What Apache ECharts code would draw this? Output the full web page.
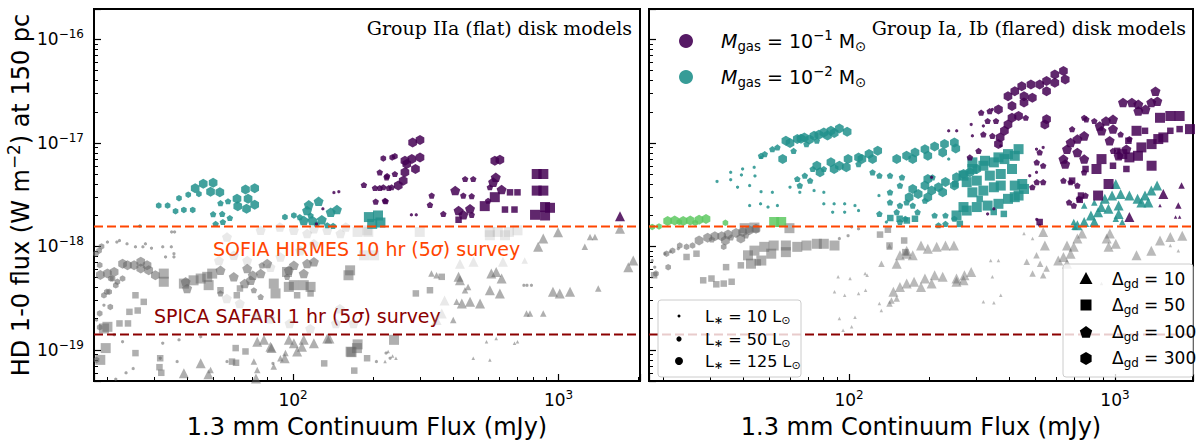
<!DOCTYPE html>
<html>
<head>
<meta charset="utf-8">
<script src="https://cdn.jsdelivr.net/npm/echarts@6/dist/echarts.min.js"></script>
<style>
html, body { margin: 0; padding: 0; background: #fff; }
#chart { width: 1200px; height: 444px; }
</style>
</head>
<body>
<div id="chart"></div>
<script>
// HD 1-0 line flux vs 1.3 mm continuum flux for disk models.
// every point: [1.3 mm flux (mJy), HD 1-0 flux (units of 1e-18 W m^-2), L* (Lsun)]
var Y_UNIT = 1e-18;
var SOFIA_LIMIT = 1.56e-18;
var SPICA_LIMIT = 1.41e-19;

// ---- left panel: Group IIa (flat) ----
var flatTealHex = [[31.2,2.48,50],[33.7,2.48,50],[36.1,2.19,50],[38.8,2.25,50],[41.9,2.25,50],[37.2,2.92,50],[40.3,3.16,50],[42.8,3.65,125],[45.9,4.04,125],[44.2,3.21,50],[50.0,4.13,125],[48.9,3.38,125],[53,3.33,125],[61.5,2.88,125],[66.2,3.54,125],[71.7,3.65,125],[67.7,2.88,125],[61.9,2.45,125],[66.8,2.31,125],[71.7,2.52,125],[93.2,1.92,50],[100.7,1.99,50],[26.5,1.57,10]];
var flatTealPent = [[53.3,2.62,50],[56.9,2.73,50],[50.0,2.05,50],[54.1,2.06,50],[57.8,1.88,50],[51.1,1.65,50],[54.4,1.72,50],[106,1.92,50],[112.9,2.22,125],[116.4,1.99,50],[124.8,2.73,125],[114.6,2.52,125],[109.7,1.78,125],[118.2,1.78,125],[128.3,1.81,125],[138.6,2.14,125],[146.3,2.27,125],[141.5,1.58,50],[134.5,1.60,50],[122.8,1.65,50]];
var flatTealSq = [[193,1.92,125],[208.9,1.99,125],[213.3,1.70,125],[198.6,1.65,125]];

var flatPurpleHex = [[282,10.1,125],[300.6,10.7,125],[263.8,6.72,125],[280,6.98,125],[300.6,7.25,125],[268,6.25,125],[289,5.6,125],[263.8,5.2,125],[259.9,4.32,125],[249,3.87,125],[575,6.72,125],[601,6.88,125],[218.7,7.09,50],[236.2,7.25,50],[241.8,7.43,50],[142.5,3.31,10],[148.7,3.38,10],[129.5,2.31,10],[122.5,1.65,10],[279,2.02,10],[291,2.02,10]];
var flatPurplePent = [[184.8,3.92,50],[203.5,3.67,50],[212,3.67,50],[229.3,3.67,50],[212,5.20,50],[226,4.79,50],[204.7,2.71,50],[223.2,2.73,50],[225,4.65,50],[241.8,5.01,50],[218.7,3.73,50],[235,3.73,50],[221.8,2.76,50],[332.6,3.10,50],[327.7,2.52,50],[368,2.06,50],[408,3.46,125],[444.6,4.48,50],[477,4.48,50],[437.5,3.10,50],[470.6,3.06,50],[420,2.22,125],[437.5,2.02,125],[463.8,2.31,125],[470.6,2.02,50],[579.8,4.65,125],[566.7,4.18,125],[609.9,3.54,125],[551,3.73,50],[542.6,2.76,50]];
var flatPurpleSq = [[420,1.81,50],[527,2.45,125],[575,2.99,125],[656,3.33,50],[700,3.33,50],[628,2.27,50],[682,2.27,50],[827,5.01,125],[876,5.01,125],[827,3.46,125],[876,3.46,125],[815,2.02,125],[889,1.99,125],[889,2.40,125],[928,2.36,125]];
var flatPurpleTri = [[1703,1.96,125]];

var flatGrayHex = [[18.8,0.53,125],[20,0.546,125],[21.2,0.566,125],[22.8,0.68,125],[23.8,0.656,125],[25.2,0.656,125],[26.7,0.71,125],[28.2,0.656,125],[26.7,0.61,125],[28.6,0.587,125],[30.3,0.526,125],[20.6,0.489,50],[21.8,0.455,50],[22.8,0.489,50],[21.5,0.42,50],[20.3,0.364,50],[19.4,0.337,50],[18.1,0.85,50],[18.6,0.91,50],[19,1.0,50],[18.7,0.66,50],[20.9,0.489,50],[19.9,0.364,50],[18.7,0.225,50],[20.5,0.26,50],[18.7,0.165,50],[18.2,0.08,50],
  [20,1.10,10],[22.2,1.14,10],[25.5,0.99,10],[27.8,1.06,10],[32.3,0.99,10],[34.8,0.99,10],[35.6,0.85,10],[33.1,0.79,10],[35.6,0.79,10],[19.4,0.27,10],[18.2,0.194,10],[21.2,0.14,10],[22.8,0.12,10],[31.6,0.083,10],[32.3,0.116,10],[37.2,0.125,10],[44.9,0.134,10],[36.6,0.077,10],[56.4,0.077,10],[206,0.077,10],[224,0.093,10],[232,0.083,10],[21.7,1.10,10],[23.7,1.06,10],[27.2,0.99,10],[29.3,0.96,10],[34.9,1.38,10],[35.8,1.38,10],[21.5,0.052,10],[23.5,0.06,10],[25,0.066,10],[84,0.074,10],[740,0.42,10],[760,0.42,10],[790,0.42,10]];
var flatGrayPent = [[53.3,0.587,125],[59.8,0.508,125],[67.2,0.61,125],[75.5,0.546,125],[79.9,0.682,125],[69.2,0.47,125],[71.2,0.377,50],[75.5,0.325,50],[39.9,0.392,125],[53.3,0.351,50],[96.4,0.587,125],[100.7,0.656,125],[113,0.682,125],[119.8,0.71,125],[95,0.508,50],[109.7,0.546,125],[39.4,0.455,125],[65.7,0.437,125],[70.5,0.526,125],[76.2,0.656,50]];
var flatGraySq = [[32.6,0.546,125],[32.6,0.455,125],[38.8,0.437,125],[42.2,0.47,125],[44.9,0.489,125],[47.5,0.508,125],[49.6,0.546,125],[48.1,0.422,125],[84.6,0.437,125],[85.9,0.351,125],[96.4,0.406,125],[100.7,0.422,125],[109.7,0.422,125],[116.4,0.406,125],[103.6,0.337,50],[20,0.167,125],[19.7,0.104,125],[18.8,0.08,125],[164.7,0.096,125],[174,0.104,125],[94.9,0.566,125],[161.7,0.526,125],[164,0.587,125],[175,0.113,125],[166,0.095,125],[19.4,0.161,125],[240,0.125,125],
  [25.5,0.337,50],[27.4,0.291,50],[24.2,0.233,50],[26,0.24,50],[22.2,0.18,50],[23.9,0.18,50],[53.3,0.377,50],[63.1,0.392,50],[61.4,0.337,50],[60.8,0.104,50],[66.2,0.0965,50],[58.9,0.077,50],[116.4,0.351,50],[190,0.083,50],[363,0.508,50],[290,0.351,50],[327.7,0.377,50],[31.6,0.083,50],[25.5,0.093,50],[31.4,0.068,50],[31.9,0.06,50],[61,0.075,50],[131,0.074,50],[170,0.063,50]];
var flatGrayTri = [[73.3,0.12,125],[77.7,0.125,125],[82.2,0.107,125],[96.4,0.125,125],[100.7,0.116,125],[109.7,0.125,125],[119.8,0.116,125],[134.5,0.129,125],[103.6,0.0965,125],[93.6,0.093,50],[89.6,0.083,50],[71.2,0.077,50],[44.9,0.0743,125],[48.9,0.064,50],[38.8,0.0595,125],[73.3,0.064,50],[84.6,0.069,50],[83,0.104,125],[93,0.083,125],[137,0.129,125],[108,0.107,125],[48,0.058,125],[72.5,0.053,125],
  [875,1.19,125],[837,0.99,125],[995,1.37,125],[1703,1.48,125],[1830,0.63,125],[1910,0.73,125],[1255,0.99,50],[1313,1.23,50],[1370,1.23,50],[420,0.508,125],[425,0.47,125],[558,0.546,125],[582,0.566,125],[610,0.489,125],[551,0.377,125],[601,0.351,125],[432,0.281,125],[464,0.291,125],[506,0.281,125],[952,0.364,125],[1010,0.351,125],[1104,0.364,125],[1410,0.392,50],[332,0.546,50],[347,0.526,50],[456,0.406,50],[444,0.377,50],[413,0.291,50],[757,0.225,50],[875,0.225,50],[401,0.194,50],[780,0.225,50],
  [228,0.0965,10],[237,0.087,10],[244,0.083,10],[222,0.077,10],[535,0.12,10],[582,0.129,10],[682,0.116,10],[700,0.12,10],[477,0.083,10],[551,0.08,10]];
var flatFaintPent = [[56.4,1.23,125],[75.5,1.43,125],[89.2,1.54,125],[100.7,1.43,125],[113,1.33,125],[119.8,1.48,125],[134.5,1.43,125],[150.8,1.33,125],[158,1.54,125],[52.6,0.73,125],[59.8,0.82,125],[67.2,0.73,125],[82.2,0.63,125],[89.6,0.79,125],[106.4,0.91,125],[119.8,1.06,125],[56.3,0.314,125],[63,0.281,125],[73,0.21,125],[82,0.2,125],[97,0.18,125],[116,0.16,125],[145,0.18,125],[169,0.18,125],[150,0.25,125]];
var flatFaintSq = [[175,1.38,125],[192,1.38,125],[185,0.82,125],[202,0.82,125],[550,1.38,125],[590,1.38,125],[650,1.38,125],[190,1.43,125],[300,1.38,125],[551,1.28,125],[628,1.28,125],[700,1.43,125]];
var flatFaintTri = [[425,0.68,125],[478,0.71,125],[617,0.71,125],[745,0.73,50],[363,0.225,125],[347,0.194,125],[372,0.30,125]];

// ---- right panel: Group Ia, Ib (flared) ----
var flaredTealHex = [[57.9,10.5,125],[63.9,10.9,125],[67.9,11.3,125],[73.9,11.7,125],[80.4,12.6,125],[85.5,13.1,125],[92,13.8,125],[98.4,12.8,125],[56.3,6.98,125],[60,10,125],[66,11,125],[71,10.8,125],[77,12,125],[83,11.8,125],[88,12.5,125],
  [75.7,6.02,125],[85.5,6.49,125],[92,6.02,125],[99.2,6.98,125],[108.6,7.25,125],[118.9,7.80,125],[128.2,8.38,125],[77.8,5.2,125],[87.9,5.6,125],[97.7,5.82,125],[111.8,6.98,125],[122.6,6.98,125],
  [151.1,6.98,125],[164.6,7.51,125],[177.1,8.1,125],[193,8.71,125],[209.8,9.25,125],[228.6,9.74,125],[249,10.1,125],[252,8.85,125],[173.6,6.98,125],[197.8,7.51,125],[225,8.1,125],
  [193,3.87,125],[204.5,3.46,125],[217,3.73,125],[230.5,4.18,125],[253.6,4.65,125],[269.4,5.01,125],[284.7,5.2,125],[302.3,5.6,125],[173.6,3.59,125],[182,3.21,125],[197.8,2.99,125],[225,3.33,125],[249,3.87,125],[197.8,4.48,125],[168.3,2.99,125],
  [31.9,4.24,10],[35.9,4.41,10],[35.9,5.2,10],[39.8,5.6,10],[44,5.82,10],[46.7,7.25,10],[38.1,3.73,10],[42.3,3.87,10],[46.7,3.38,10],[51.5,3.33,10],[42.3,2.48,10],[46.5,2.58,10],[49.6,2.40,10],[53.8,2.48,10],[39.4,4.9,10],[44.3,4.8,10],[60,3.73,10],[65.3,3.33,10],[73.9,3.46,10],[80.4,3.33,10],[87.9,2.58,10],[96.3,2.58,10],[105.3,2.48,10],[108.6,2.22,10],[86.8,2.14,10],[80.4,2.58,10],[96.3,2.14,10],[237,6.98,10],[129.6,3.10,10],[138.2,1.72,10]];
var flaredTealPent = [[46.7,7.51,50],[48.2,7.80,50],[51.5,8.71,50],[53.8,9.05,50],[61.9,8.38,50],[69.2,9.74,50],[75.7,10.5,50],[63.9,4.48,50],[68.2,4.83,50],[73,5.6,50],[65.3,3.87,50],[71.4,4.32,50],[80.4,5.6,50],[108.6,6.25,50],[122.6,5.2,50],[130.1,4.83,50],[142.6,4.83,50],[158.2,4.65,50],[155.4,3.87,50],[142.6,2.66,50],[155.4,2.48,50],[164.6,2.66,50],[151.1,2.14,50],[162.8,1.85,50],[155.4,1.72,50],[130.1,2.06,50],[142.6,3.33,50],[206,4.65,50],[173.6,2.48,50],[193,2.76,50],[181,2.14,50],[209.8,1.99,50],[230.5,1.99,50],[217,1.60,50],[230.5,1.65,50],[249,1.85,50]];
var flaredTealSq = [[269.4,4.83,125],[291,5.6,125],[320,6.02,125],[350.5,6.49,125],[384,6.98,125],[420,7.51,125],[434,8.71,125],[291,6.49,125],[324.5,6.72,125],[364.6,7.25,125],[396,7.80,125],[277,4.18,125],[302.3,4.32,125],[338.4,4.83,125],[372,5.01,125],[410,5.6,125],[291,3.33,125],[320,3.46,125],[350.5,3.73,125],[372,3.87,125],[420,3.87,125],[448,4.01,125],[302.3,2.40,125],[332,2.48,125],[364.6,2.58,125],[396,2.88,125],[434,3.10,125],[455,3.59,125],[269.4,2.40,125],[253.6,1.99,125],[277,2.22,125],[420,2.99,125],
  [382,2.06,50],[350,2.15,50],[261,1.65,50],[310,2.88,50],[251,4.0,50],[143,1.88,50],[155,1.85,50],[165,1.78,50],[177,1.85,50]];
var flaredTealTri = [[1007,4.01,125],[1050,3.21,125],[1133,3.10,125],[1216,2.88,125],[1297,3.10,125],[1370,3.46,125],[1440,3.87,125],[975,3.10,125],[916,2.88,125],[888,2.40,125],[945,2.31,125],[1032,2.48,125],[864,2.14,125],[812,1.99,125],[836,1.72,125],[766,1.72,125],[722,1.60,125],[1257,2.66,125],[1335,2.66,125],[1032,2.06,125],[766,2.48,50],[836,2.66,50],[700,1.72,50],[1007,1.85,50],[1065,1.72,50],[705,1.55,50]];

var flaredPurpleHex = [[640,49.5,125],[594,45.9,125],[553,39.6,125],[521,36.8,125],[483,36.8,125],[446,35.4,125],[420,31.6,125],[396,28.3,125],[455,28.3,125],[489,27.3,125],[553,31.6,125],[594,38.2,125],[650,41.1,125],[553,16.9,125],[545,15.1,125],[364.6,9.74,125],[370,11.3,125],[384,13.1,125],[396,15.1,125],[410,17.5,125],[434,18.2,125],[364.6,21.1,125],[410,22.8,125],[455,24.6,125],
  [288,15.1,10],[237,13.1,10],[254,13.1,10],[291,11.7,10],[320,14.6,10],[346,21.1,10],[507,8.71,10],[537,9.05,10],[478,4.83,10],[507,5.2,10],[521,1.60,10],[350.5,2.31,10],[204.5,4.65,10],[372,9.39,10],[508,1.82,10],[332,2.06,10]];
var flaredPurplePent = [[314,19.6,50],[338,20.3,50],[357,16.3,50],[332,16.3,50],[320,12.1,50],[346,11.7,50],[462,17.5,50],[307,8.38,50],[284.7,7.25,50],[508,6.49,50],[537,6.02,50],[521,8.1,50],[537,4.18,50],[508,4.18,50],[489,3.73,50],
  [1420,31.6,125],[1443,25.3,125],[1369,24.6,125],[1302,21.1,125],[1224,20.3,125],[1158,24.6,125],[1072,24.6,125],[1224,23.6,125],[983,16.9,125],[925,16.3,125],[876,14.6,125],[890,13.1,125],[983,13.6,125],[780,16.9,50],[766,11.7,125],[722,10.9,125],[681,10.1,125],[660,8.71,125],[640,6.98,125],[650,6.25,125],[722,8.1,125],[766,6.98,125],[955,10.5,125],[1032,7.51,125],[1104,8.71,125],
  [690,13.6,50],[766,17.5,50],[836,16.3,50],[1133,10.9,50],[1050,12.1,50],[983,8.38,50],[766,5.2,50],[681,4.18,50],[722,3.87,50],[672,2.66,50],[732,2.88,50],[775,3.10,50],[700,2.48,50],[640,4.32,50]];
var flaredPurpleSq = [[1477,17.5,125],[1615,18.2,125],[1750,18.2,125],[1915,13.6,125],[1455,10.9,125],[1520,11.3,125],[1373,9.74,125],[1257,9.05,125],[1220,7.51,125],[1373,6.02,125],[890,6.98,125],[852,5.6,125],[946,4.01,125],[864,3.10,125],[1133,7.25,125],[1065,7.8,125],[1205,13.1,125],
  [1297,13.1,50],[1123,10.5,50],[1020,8.38,50],[775,5.6,50],[690,4.32,50],[745,3.10,50],[1615,13.1,50],[1750,13.6,50],[1104,5.6,50],[983,6.02,50],[737,2.82,50],[521,1.72,50]];
var flaredPurpleTri = [[1520,3.21,125],[1780,3.87,50],[1730,2.48,50],[1133,1.92,125],[1477,2.48,10],[1690,1.92,10],[1750,1.92,10]];

var flaredGreenHex = [[20.8,1.76,125],[22.1,1.78,125],[23.8,1.76,125],[25.3,1.78,125],[27.3,1.81,125],[29,1.84,125],[34.3,1.69,50],[19.3,1.56,50],[18.2,1.54,50],[26.4,1.69,50],[23,1.72,50]];
var flaredGreenSq = [[52.3,1.72,125],[55.6,1.72,125]];

var flaredGrayHex = [[29.4,1.21,125],[31.3,1.25,125],[33.2,1.25,125],[35.1,1.30,125],[37.6,1.35,125],[39.8,1.38,125],[42.2,1.43,125],[44.7,1.48,125],[34.3,1.14,125],[39.2,1.19,125],[27.3,1.14,125],[25.8,1.02,50],[24.5,0.99,50],[23.1,1.02,50],[21.7,0.91,50],[20.6,0.85,50],[20.9,0.63,50],[18.8,0.546,50],[33.8,0.99,50],
  [20.3,0.85,10],[21.3,0.89,10],[22.8,0.95,10],[92,1.19,10],[99.2,1.27,10],[102.3,1.54,10],[108.6,1.48,10],[18.2,0.73,10],[18.6,0.63,10]];
var flaredGrayPent = [[30.5,1.17,50],[36,1.22,50],[41,1.28,50]];
var flaredGraySq = [[41.7,0.82,125],[44.1,0.91,125],[48,0.99,125],[52.1,1.02,125],[57.9,1.02,125],[63.9,0.99,125],[69.2,1.02,125],[75.7,1.06,125],[80.4,1.06,125],[88.2,1.02,125],[42.8,0.68,125],[46.8,0.73,125],[51,0.85,125],[57.9,0.88,125],[59.7,1.50,125],[44.1,1.52,125],[40.5,1.50,125],
  [28.3,0.47,50],[30.4,0.489,50],[31.7,0.43,50],[33.8,0.437,50],[36.2,0.455,50],[34.5,0.63,50],[39.2,0.656,50],[24.5,0.79,50],[18.5,0.526,50],[26.7,0.85,50],[45.4,0.70,50],[142,1.02,50],[161.2,1.14,50],[162.8,0.88,50],[130.8,1.3,50],[140,1.45,50]];
var flaredGrayTri = [[186.5,1.02,125],[197.8,0.95,125],[213.6,0.99,125],[230.5,1.02,125],[248,1.02,125],[164.6,0.85,125],[173.6,0.82,125],[155.4,0.82,125],[151.1,0.68,125],[164.8,0.91,125],[146.8,0.364,125],[155.4,0.406,125],[164.8,0.437,125],[175.6,0.455,125],[193,0.489,125],[209.8,0.526,125],[225,0.508,125],[253.6,0.489,125],[271.6,0.526,125],[288,0.566,125],[186.5,0.406,125],[204.5,0.437,125],[253.6,0.455,125],[269.4,0.47,125],[144.4,0.30,50],[151.1,0.314,50],[142,0.281,50],[132.4,0.68,50],[142,0.99,50],
  [130.1,0.281,10],[132.3,0.24,10],[105.3,0.207,10],[92,0.201,10],[95,0.155,10],[102.3,0.167,10],[117,0.526,10],[100.9,0.489,10],[88.2,0.364,10],[96.3,0.337,10],[108.6,0.351,10],[115.4,0.377,10],[320,0.291,10],[350.5,0.285,10],[372,0.337,10],[346,0.508,10],[364.6,0.73,10],[341,0.73,10],[91,0.508,10],[115,0.546,10],
  [660,1.02,125],[700,0.99,125],[681,0.85,125],[722,1.19,125],[752,1.33,125],[957,1.33,125],[1007,1.06,125],[946,0.99,125],[931,1.19,125],[1477,1.14,125],[1615,1.23,125],[1790,1.27,125],[1205,0.82,125],[1370,0.91,125],[640,0.79,125],[612,0.73,125],[660,0.68,125],[545,1.02,125],[537,1.38,125],
  [490,0.546,50],[466,0.71,50],[507,0.82,50],[523,0.68,50],[537,0.526,50],[553,0.61,50],[455,1.33,10],[490,1.19,10],[890,0.437,10],[1615,1.02,10],[1730,0.91,10]];

// ---- styling ----
var FONT = 'DejaVu Sans';
var C = { purple: '#440154', teal: '#21918c', green: '#5ec962', gray: '#666666', faint: '#9a9a9a', sofia: '#ff4500', spica: '#8b0000' };
var SYMBOLS = {
  tri: 'triangle',
  sq: 'rect',
  pent: 'path://M0,-1L0.951,-0.309L0.588,0.809L-0.588,0.809L-0.951,-0.309Z',
  hex: 'path://M0,-1L0.866,-0.5L0.866,0.5L0,1L-0.866,0.5L-0.866,-0.5Z'
};
var MARKER_SIZE = { 10: 3.5, 50: 6.5, 125: 10 };
var PANELS = [
  { xMin: 17.8, xMax: 2025 },
  { xMin: 17.7, xMax: 1965 }
];
var Y_MIN = 5e-20, Y_MAX = 1.97e-16;

var xMinor = [], yMinor = [];
[10, 100, 1000].forEach(function (d) { for (var k = 2; k <= 9; k++) xMinor.push(k * d); });
[1e-20, 1e-19, 1e-18, 1e-17].forEach(function (d) { for (var k = 2; k <= 9; k++) yMinor.push(k * d); });

function powerLabel(v) {
  var p = Math.log10(v), e = Math.round(p);
  if (Math.abs(p - e) > 1e-6) return '';
  return '{b|10}{s|' + (e < 0 ? '\u2212' + (-e) : e) + '}';
}

function rich(fs, color) {
  color = color || '#000';
  function st(size, lh, extra) {
    var o = { fontSize: size, fontFamily: FONT, color: color, fill: color, lineHeight: lh };
    for (var k in extra) o[k] = extra[k];
    return o;
  }
  return {
    n: st(fs, fs * 1.3, {}),
    i: st(fs, fs * 1.3, { fontStyle: 'italic' }),
    sup: st(fs * 0.7, fs * 0.7, { verticalAlign: 'top' }),
    sub: st(fs * 0.7, fs * 0.7, { verticalAlign: 'bottom' })
  };
}
var TICK_RICH = {
  b: { fontSize: 17, fontFamily: FONT, color: '#000', lineHeight: 22 },
  s: { fontSize: 12, fontFamily: FONT, color: '#000', lineHeight: 12, verticalAlign: 'top' }
};

function scatter(panel, data, color, shape, opacity) {
  return {
    type: 'scatter',
    xAxisIndex: panel,
    yAxisIndex: panel,
    data: data.map(function (d) { return [d[0], d[1] * Y_UNIT, d[2]]; }),
    symbol: SYMBOLS[shape],
    symbolKeepAspect: true,
    symbolSize: function (v) { return MARKER_SIZE[v[2]]; },
    itemStyle: { color: color, opacity: opacity },
    silent: true
  };
}

// survey detection limits as horizontal dashed lines across each panel
function limitLine(panel, value, color) {
  var p = PANELS[panel];
  return {
    type: 'line',
    xAxisIndex: panel,
    yAxisIndex: panel,
    data: [[p.xMin, value], [p.xMax, value]],
    symbol: 'none',
    silent: true,
    lineStyle: { color: color, width: 2, type: [9, 4] }
  };
}

var xAxes = [], yAxes = [];
PANELS.forEach(function (p, i) {
  xAxes.push({
    type: 'log', gridIndex: i, min: p.xMin, max: p.xMax, position: 'bottom',
    name: '1.3 mm Continuum Flux (mJy)', nameLocation: 'middle', nameGap: 34,
    nameTextStyle: { fontFamily: FONT, fontSize: 24, color: '#000' },
    axisLine: { show: true, lineStyle: { color: '#000', width: 2 } },
    axisTick: { inside: true, length: 7, lineStyle: { color: '#000', width: 1.2 } },
    axisLabel: { formatter: powerLabel, rich: TICK_RICH, margin: 8 },
    splitLine: { show: false }
  });
  yAxes.push({
    type: 'log', gridIndex: i, min: Y_MIN, max: Y_MAX, position: 'left',
    name: i === 0 ? '{n|HD 1-0 flux (W m}{sup|\u22122}{n|) at 150 pc}' : '',
    nameLocation: 'middle', nameGap: 43, nameRotate: 90,
    nameTextStyle: { fontFamily: FONT, fontSize: 24, color: '#000', rich: rich(24) },
    axisLine: { show: true, lineStyle: { color: '#000', width: 2 } },
    axisTick: { inside: true, length: 7, lineStyle: { color: '#000', width: 1.2 } },
    axisLabel: { show: i === 0, formatter: powerLabel, rich: TICK_RICH, margin: 10 },
    splitLine: { show: false }
  });
});
// minor tick overlays
PANELS.forEach(function (p, i) {
  xAxes.push({
    type: 'log', gridIndex: i, min: p.xMin, max: p.xMax, position: 'bottom',
    axisLine: { show: false }, axisLabel: { show: false }, splitLine: { show: false },
    axisTick: { inside: true, length: 4, customValues: xMinor, lineStyle: { color: '#000', width: 1 } }
  });
  yAxes.push({
    type: 'log', gridIndex: i, min: Y_MIN, max: Y_MAX, position: 'left',
    axisLine: { show: false }, axisLabel: { show: false }, splitLine: { show: false },
    axisTick: { inside: true, length: 4, customValues: yMinor, lineStyle: { color: '#000', width: 1 } }
  });
});

var series = [
  scatter(0, flatFaintPent, C.faint, 'pent', 0.22),
  scatter(0, flatFaintSq, C.faint, 'sq', 0.22),
  scatter(0, flatFaintTri, C.faint, 'tri', 0.22),
  scatter(0, flatGrayHex, C.gray, 'hex', 0.58),
  scatter(0, flatGrayPent, C.gray, 'pent', 0.58),
  scatter(0, flatGraySq, C.gray, 'sq', 0.52),
  scatter(0, flatGrayTri, C.gray, 'tri', 0.52),
  limitLine(0, SOFIA_LIMIT, C.sofia),
  limitLine(0, SPICA_LIMIT, C.spica),
  scatter(0, flatTealHex, C.teal, 'hex', 0.85),
  scatter(0, flatTealPent, C.teal, 'pent', 0.85),
  scatter(0, flatTealSq, C.teal, 'sq', 0.85),
  scatter(0, flatPurpleHex, C.purple, 'hex', 0.85),
  scatter(0, flatPurplePent, C.purple, 'pent', 0.85),
  scatter(0, flatPurpleSq, C.purple, 'sq', 0.85),
  scatter(0, flatPurpleTri, C.purple, 'tri', 0.85),

  scatter(1, flaredGrayHex, C.gray, 'hex', 0.58),
  scatter(1, flaredGrayPent, C.gray, 'pent', 0.58),
  scatter(1, flaredGraySq, C.gray, 'sq', 0.52),
  scatter(1, flaredGrayTri, C.gray, 'tri', 0.45),
  limitLine(1, SOFIA_LIMIT, C.sofia),
  limitLine(1, SPICA_LIMIT, C.spica),
  scatter(1, flaredGreenHex, C.green, 'hex', 0.85),
  scatter(1, flaredGreenSq, C.green, 'sq', 0.85),
  scatter(1, flaredTealHex, C.teal, 'hex', 0.85),
  scatter(1, flaredTealPent, C.teal, 'pent', 0.85),
  scatter(1, flaredTealSq, C.teal, 'sq', 0.85),
  scatter(1, flaredTealTri, C.teal, 'tri', 0.85),
  scatter(1, flaredPurpleHex, C.purple, 'hex', 0.85),
  scatter(1, flaredPurplePent, C.purple, 'pent', 0.85),
  scatter(1, flaredPurpleSq, C.purple, 'sq', 0.85),
  scatter(1, flaredPurpleTri, C.purple, 'tri', 0.85)
];

// ---- legends and annotations ----
function polygon(cx, cy, r, n) {
  var pts = [];
  for (var k = 0; k < n; k++) {
    var a = -Math.PI / 2 + 2 * Math.PI * k / n;
    pts.push([cx + r * Math.cos(a), cy + r * Math.sin(a)]);
  }
  return pts;
}
var boxStyle = { fill: 'rgba(255,255,255,0.8)', stroke: '#cccccc', lineWidth: 1 };
var graphics = [
  { type: 'text', x: 213, y: 249, style: { text: '{n|SOFIA HIRMES 10 hr (5}{i|\u03c3}{n|) survey}', rich: rich(19, C.sofia), verticalAlign: 'middle' } },
  { type: 'text', x: 154, y: 316, style: { text: '{n|SPICA SAFARI 1 hr (5}{i|\u03c3}{n|) survey}', rich: rich(19, C.spica), verticalAlign: 'middle' } },

  { type: 'circle', shape: { cx: 686, cy: 41, r: 7 }, style: { fill: C.purple, opacity: 0.9 } },
  { type: 'text', x: 721, y: 41, style: { text: '{i|M}{sub|gas}{n| = 10}{sup|\u22121}{n| M}{sub|\u2299}', rich: rich(19), verticalAlign: 'middle' } },
  { type: 'circle', shape: { cx: 686, cy: 77, r: 7 }, style: { fill: C.teal, opacity: 0.9 } },
  { type: 'text', x: 721, y: 77, style: { text: '{i|M}{sub|gas}{n| = 10}{sup|\u22122}{n| M}{sub|\u2299}', rich: rich(19), verticalAlign: 'middle' } },

  { type: 'rect', z: 50, shape: { x: 658, y: 300, width: 143, height: 77, r: 3 }, style: boxStyle },
  { type: 'circle', z: 51, shape: { cx: 679, cy: 316, r: 1.5 }, style: { fill: '#000' } },
  { type: 'circle', z: 51, shape: { cx: 679, cy: 339, r: 2.6 }, style: { fill: '#000' } },
  { type: 'circle', z: 51, shape: { cx: 679, cy: 361, r: 4 }, style: { fill: '#000' } },
  { type: 'text', z: 51, x: 705, y: 316, style: { text: '{n|L}{sub|\u2217}{n| = 10 L}{sub|\u2299}', rich: rich(16), verticalAlign: 'middle' } },
  { type: 'text', z: 51, x: 705, y: 339, style: { text: '{n|L}{sub|\u2217}{n| = 50 L}{sub|\u2299}', rich: rich(16), verticalAlign: 'middle' } },
  { type: 'text', z: 51, x: 705, y: 361, style: { text: '{n|L}{sub|\u2217}{n| = 125 L}{sub|\u2299}', rich: rich(16), verticalAlign: 'middle' } },

  { type: 'rect', z: 50, shape: { x: 1063, y: 264, width: 130, height: 113, r: 3 }, style: boxStyle },
  { type: 'polygon', z: 51, shape: { points: [[1086, 272], [1092.5, 284], [1079.5, 284]] }, style: { fill: '#000' } },
  { type: 'rect', z: 51, shape: { x: 1080.5, y: 299.5, width: 11, height: 11 }, style: { fill: '#000' } },
  { type: 'polygon', z: 51, shape: { points: polygon(1086, 332.5, 6.5, 5) }, style: { fill: '#000' } },
  { type: 'polygon', z: 51, shape: { points: polygon(1086, 358.5, 6.5, 6) }, style: { fill: '#000' } },
  { type: 'text', z: 51, x: 1112, y: 279, style: { text: '{n|\u0394}{sub|gd}{n| = 10}', rich: rich(17), verticalAlign: 'middle' } },
  { type: 'text', z: 51, x: 1112, y: 305, style: { text: '{n|\u0394}{sub|gd}{n| = 50}', rich: rich(17), verticalAlign: 'middle' } },
  { type: 'text', z: 51, x: 1112, y: 332, style: { text: '{n|\u0394}{sub|gd}{n| = 100}', rich: rich(17), verticalAlign: 'middle' } },
  { type: 'text', z: 51, x: 1112, y: 358, style: { text: '{n|\u0394}{sub|gd}{n| = 300}', rich: rich(17), verticalAlign: 'middle' } }
];

var chart = echarts.init(document.getElementById('chart'), null, { renderer: 'svg' });
chart.setOption({
  animation: false,
  backgroundColor: '#fff',
  title: [
    { text: 'Group IIa (flat) disk models', right: 568, top: 18, padding: 0,
      textStyle: { fontFamily: 'DejaVu Serif', fontSize: 19, fontWeight: 'normal', color: '#000' } },
    { text: 'Group Ia, Ib (flared) disk models', right: 14, top: 18, padding: 0,
      textStyle: { fontFamily: 'DejaVu Serif', fontSize: 19, fontWeight: 'normal', color: '#000' } }
  ],
  grid: [
    { left: 94, top: 9, width: 546, height: 374, show: true, borderColor: '#000', borderWidth: 2 },
    { left: 649, top: 9, width: 544, height: 374, show: true, borderColor: '#000', borderWidth: 2 }
  ],
  xAxis: xAxes,
  yAxis: yAxes,
  series: series,
  graphic: graphics
});
</script>
</body>
</html>
